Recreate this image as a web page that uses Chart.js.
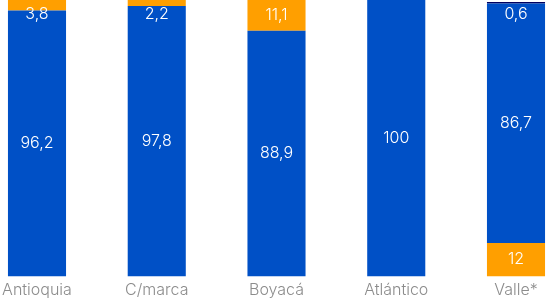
<!DOCTYPE html>
<html>
<head>
<meta charset="utf-8">
<script src="https://cdn.jsdelivr.net/npm/chart.js@4"></script>
<style>
  html, body { margin: 0; padding: 0; background: #fff; }
  #plot { display: block; }
</style>
</head>
<body>
<canvas id="plot" width="546" height="305"></canvas>
<script>
const regions = ['Antioquia', 'C/marca', 'Boyacá', 'Atlántico', 'Valle*'];

// shares in %, as printed on the bars
const bottomShare = [null, null, null, null, 12];
const mainShare = [96.2, 97.8, 88.9, 100, 86.7];
const topShare = [3.8, 2.2, 11.1, null, null];
const darkShare = [null, null, null, null, 0.6];

const blue = '#0050c6';
const orange = '#ff9f00';
const navy = '#01005f';

// white value labels in the middle of each segment
const valueLabels = {
  id: 'valueLabels',
  afterDatasetsDraw(chart) {
    const ctx = chart.ctx;
    ctx.save();
    ctx.fillStyle = '#fff';
    ctx.font = '300 16px Inter';
    ctx.textAlign = 'center';
    ctx.textBaseline = 'middle';
    chart.data.datasets.forEach((ds, i) => {
      const meta = chart.getDatasetMeta(i);
      meta.data.forEach((bar, j) => {
        const v = ds.data[j];
        if (v == null) return;
        const { x, y, base } = bar.getProps(['x', 'y', 'base'], true);
        let cy = (y + base) / 2;
        cy = Math.max(cy, 14); // keep small top segments readable
        ctx.fillText(String(v).replace('.', ','), x, cy);
      });
    });
    ctx.restore();
  }
};

const config = {
  type: 'bar',
  data: {
    labels: regions,
    datasets: [
      { label: 'bottom', data: bottomShare, backgroundColor: orange },
      { label: 'main', data: mainShare, backgroundColor: blue },
      { label: 'top', data: topShare, backgroundColor: orange },
      { label: 'dark', data: darkShare, backgroundColor: navy }
    ]
  },
  options: {
    responsive: false,
    animation: false,
    clip: false,
    borderWidth: 0,
    categoryPercentage: 1,
    barPercentage: 0.485,
    layout: {
      padding: { left: 37, right: 30, top: 0, bottom: 0 }
    },
    plugins: {
      legend: { display: false },
      tooltip: { enabled: false }
    },
    scales: {
      x: {
        stacked: true,
        offset: false,
        border: { display: false },
        grid: { display: false, drawTicks: false },
        ticks: {
          color: '#8c8c8c',
          padding: 8,
          maxRotation: 0,
          autoSkip: false,
          font: { family: 'Inter', size: 16, weight: '300', lineHeight: 0.8 }
        },
        afterFit(scale) {
          // edge labels may hang over, the layout padding decides the area
          scale.paddingLeft = 0;
          scale.paddingRight = 0;
        }
      },
      y: {
        stacked: true,
        display: false,
        min: 0,
        max: 100
      }
    }
  },
  plugins: [valueLabels]
};

const myChart = new Chart(document.getElementById('plot'), config);
</script>
</body>
</html>
